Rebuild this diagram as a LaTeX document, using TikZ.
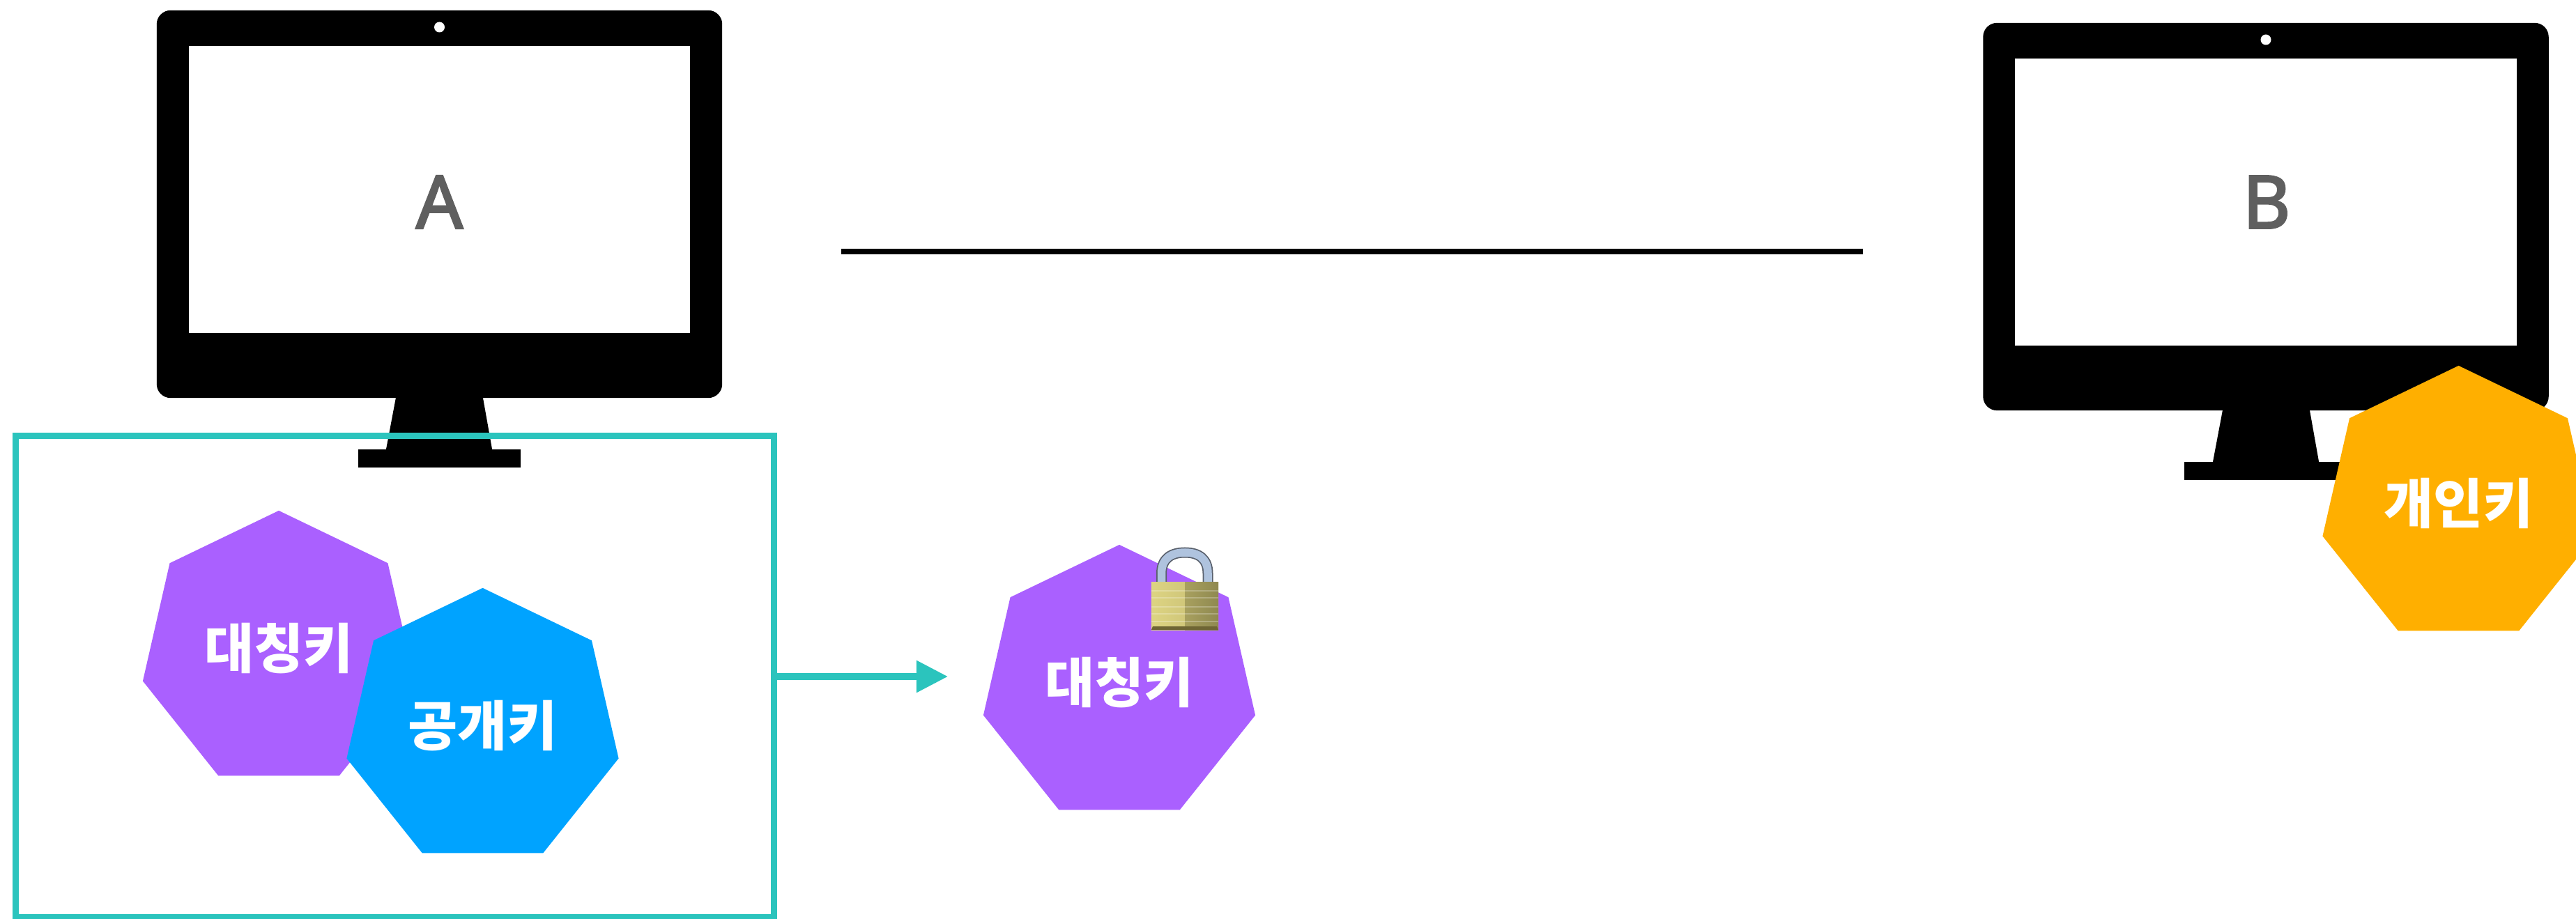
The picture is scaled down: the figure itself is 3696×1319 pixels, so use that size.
\documentclass[tikz,border=0pt]{standalone}
\usepackage{fontspec}
\usepackage{tikz}
\usetikzlibrary{positioning,shapes.geometric,arrows.meta,calc}
\newfontfamily\keyfont[BoldFont={Noto Sans CJK KR Black}]{Noto Sans CJK KR}
\newfontfamily\pcfont[FakeBold=2.5]{Noto Sans}
\definecolor{tealline}{HTML}{2BC4BD}
\definecolor{keypurple}{HTML}{AA60FF}
\definecolor{keyblue}{HTML}{00A3FF}
\definecolor{keyorange}{HTML}{FFAF00}
\definecolor{pcgray}{HTML}{5F5F5F}
\definecolor{lockA}{HTML}{DDD482}
\definecolor{lockB}{HTML}{C4BA72}
\definecolor{lockC}{HTML}{A8A05E}
\definecolor{lockD}{HTML}{8F8950}
\definecolor{lockdark}{HTML}{6E6534}
\definecolor{shackleedge}{HTML}{59606C}
\definecolor{shacklefill}{HTML}{AFC3DE}
\tikzset{
    x=0.01cm, y=-0.01cm,
    body/.style={fill=black, rounded corners=0.2cm, minimum width=8.11cm, minimum height=5.56cm, inner sep=0pt, outer sep=0pt},
    screen/.style={fill=white, minimum width=7.19cm, minimum height=4.11cm, inner sep=0pt, outer sep=0pt},
    camera/.style={circle, fill=white, minimum size=0.15cm, inner sep=0pt},
    foot/.style={fill=black, minimum width=2.33cm, minimum height=0.26cm, inner sep=0pt, outer sep=0pt},
    pc label/.style={font=\pcfont\fontsize{30}{30}\selectfont, text=pcgray},
    key/.style={regular polygon, regular polygon sides=7, minimum size=4cm, inner sep=0pt, outer sep=0pt, text=white, text height=0.75cm, text depth=0.23cm, font=\keyfont\bfseries\fontsize{22}{22}\selectfont},
    keybox/.style={draw=tealline, line width=0.09cm, minimum width=10.87cm, minimum height=6.91cm, inner sep=0pt, outer sep=0pt},
    tealarrow/.style={draw=tealline, line width=0.09cm, -{Triangle[length=0.45cm, width=0.44cm]}},
    msgline/.style={line width=0.08cm},
    lockstripe/.style={line width=0.012cm, color=white, opacity=0.25}
}
\begin{document}
\begin{tikzpicture}
    \useasboundingbox (0,0) rectangle (3696,1319);

    % --- Computer A ---
    \fill (570,560) -- (691,560) -- (707,650) -- (553,650) -- cycle;
    \node (footA) [foot] at (630.5,658) {};
    \node (bodyA) [body] at (630.5,293) {};
    \node (screenA) [screen] at (630.5,272) {};
    \node (camA) [camera] at (630.5,39) {};
    \node (labelA) [pc label] at (630.5,290) {A};

    % --- Computer B ---
    \fill (3191,578) -- (3312,578) -- (3328,668) -- (3174,668) -- cycle;
    \node (footB) [foot] at (3251,676) {};
    \node (bodyB) [body] at (3251,311) {};
    \node (screenB) [screen] at (3251,290) {};
    \node (camB) [camera] at (3251,57) {};
    \node (labelB) [pc label] at (3252,290) {B};

    % --- Line between computers ---
    \coordinate (lineL) at (1207,361);
    \coordinate (lineR) at (2673,361);
    \draw[msgline] (lineL) -- (lineR);

    % --- Keys ---
    \node (symm) [key, fill=keypurple] at (400,933) {대칭키};
    \node (pub) [key, fill=keyblue] at (692.5,1044) {공개키};
    \node (keybox) [keybox] at (566.5,971) {};
    \node (enc) [key, fill=keypurple] at (1606,982) {대칭키};
    \node (priv) [key, fill=keyorange] at (3527.5,725) {개인키};

    % --- Arrow ---
    \coordinate (arrowend) at (1360,971);
    \draw[tealarrow] (keybox.east) -- (arrowend);

    % --- Lock ---
    \draw[line width=0.15cm, color=shackleedge] (1666.5,838) -- (1666.5,823) .. controls (1666.5,802) and (1680,793) .. (1700,793) .. controls (1720,793) and (1733,802) .. (1733,823) -- (1733,838);
    \draw[line width=0.115cm, color=shacklefill] (1666.5,838) -- (1666.5,823) .. controls (1666.5,802) and (1680,793) .. (1700,793) .. controls (1720,793) and (1733,802) .. (1733,823) -- (1733,838);
    \node (lockbody) [left color=lockA, right color=lockB, minimum width=0.96cm, minimum height=0.68cm, inner sep=0pt, outer sep=0pt] at (1700,870) {};
    \shade[left color=lockC, right color=lockD] (lockbody.north) rectangle (lockbody.south east);
    \fill[lockdark] ($(lockbody.south west)+(2,-5)$) -- ($(lockbody.south east)+(-2,-5)$) -- (lockbody.south east) -- (lockbody.south west) -- cycle;
    \foreach \y in {848,858,871,881,892}
        \draw[lockstripe] ($(lockbody.west)+(0,\y-870)$) -- ($(lockbody.east)+(0,\y-870)$);
\end{tikzpicture}
\end{document}
